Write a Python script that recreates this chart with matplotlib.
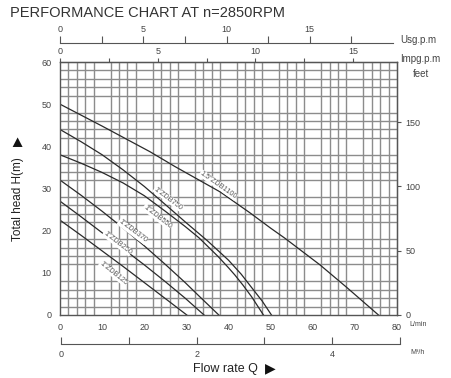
import matplotlib
matplotlib.use("Agg")
import matplotlib.pyplot as plt
from matplotlib.ticker import FixedLocator, FuncFormatter

plt.rcParams['font.family'] = ['Liberation Sans', 'DejaVu Sans']

# pump curves, flow in L/min, head in m
q_1100 = [0, 10, 21.4, 27.3, 38, 45, 50, 53.4, 61.7, 68, 75.6]
h_1100 = [50, 44.8, 38.7, 35.2, 29.2, 24.3, 20.6, 18.2, 11.9, 6.6, 0]
q_750 = [0, 5, 10, 15, 20, 25, 29.7, 35, 40, 43, 45.5, 48, 50.2]
h_750 = [44, 41.1, 38.0, 34.4, 30.5, 26.2, 22.1, 17.6, 13.0, 9.7, 6.5, 3.3, 0]
q_550 = [0, 5, 10, 15, 20, 25, 29.7, 33, 37.6, 40, 41.5, 43.5, 45.5, 48.3]
h_550 = [38, 36.0, 33.8, 31.3, 28.3, 24.6, 21.0, 18.3, 13.8, 11.2, 9.5, 7.0, 4.3, 0]
q_370 = [0, 5, 10, 15, 20, 25, 29.7, 33, 37.7]
h_370 = [32, 28.4, 24.6, 20.6, 16.4, 12.0, 7.7, 4.5, 0]
q_250 = [0, 5, 10, 15, 20, 25, 29.7, 34.2]
h_250 = [27, 23.3, 19.5, 15.7, 11.9, 7.9, 4.0, 0]
q_125 = [0, 5, 10, 15, 20, 25, 30.1]
h_125 = [22.5, 18.9, 15.2, 11.5, 7.7, 3.9, 0]

curves = [(q_1100, h_1100), (q_750, h_750), (q_550, h_550),
          (q_370, h_370), (q_250, h_250), (q_125, h_125)]
names = ['1.5"ZDB1100', '1"ZDB750', '1"ZDB550', '1"ZDB370', '1"ZDB250', '1"ZDB125']
label_q = [37.6, 25.7, 23.1, 17.2, 13.6, 12.7]
label_h = [30.8, 27.6, 23.3, 19.8, 17.1, 9.9]
label_rot = [-35, -37, -38, -37, -38, -39]

lpm_ticks = [0, 10, 20, 30, 40, 50, 60, 70, 80]
head_ticks = [0, 10, 20, 30, 40, 50, 60]
feet_ticks = [0, 50, 100, 150]
usg_ticks = [0, 2.5, 5, 7.5, 10, 12.5, 15, 17.5]
impg_ticks = [0, 2.5, 5, 7.5, 10, 12.5, 15]
m3h_ticks = [0, 1, 2, 3, 4, 5]

W, H = 451, 378
fig = plt.figure(figsize=(W / 100, H / 100), dpi=100)
txt = '#444444'
fs = 6.5

def fx(px):
    return px / W

def fy(py):
    return 1 - py / H

# main grid axes
ax = fig.add_axes([fx(60), fy(315), fx(337), 253 / H])
ax.set_xlim(0, 80)
ax.set_ylim(0, 60)
ax.set_xticks(range(0, 81, 2), minor=True)
ax.set_yticks(range(0, 61, 2), minor=True)
ax.grid(which='minor', color='#8c8c8c', linewidth=1.0)
ax.set_axisbelow(True)
ax.set_xticks(lpm_ticks)
ax.set_yticks(head_ticks)
ax.tick_params(which='both', length=0, labelsize=fs, labelcolor=txt)
ax.tick_params(axis='x', pad=6)
ax.tick_params(axis='y', pad=6)
for s in ax.spines.values():
    s.set_color('#555555')
    s.set_linewidth(1.0)

for (q, h), nm, lq, lh, rot in zip(curves, names, label_q, label_h, label_rot):
    ax.plot(q, h, color='#2a2a2a', linewidth=0.9)
    ax.text(lq, lh, nm, fontsize=5.3, rotation=rot, color='#555555',
            ha='center', va='center', rotation_mode='anchor',
            bbox=dict(facecolor='white', edgecolor='none', pad=0.2))

# top: Impg.p.m on grid top border
sec = ax.secondary_xaxis('top', functions=(lambda q: q / 4.64, lambda g: g * 4.64))
sec.xaxis.set_major_locator(FixedLocator(impg_ticks))
sec.xaxis.set_major_formatter(FuncFormatter(lambda v, p: '%d' % v if v % 5 == 0 else ''))
sec.tick_params(length=3, width=0.8, color='#555555', labelsize=fs, labelcolor=txt, pad=1.5)

# right: feet
secy = ax.secondary_yaxis('right', functions=(lambda m: m * 3.2808, lambda f: f / 3.2808))
secy.yaxis.set_major_locator(FixedLocator(feet_ticks))
secy.tick_params(length=3, width=0.8, color='#555555', labelsize=fs, labelcolor=txt, pad=3)

# Usg.p.m scale
au = fig.add_axes([fx(60), fy(43), fx(333), 0.0001])
au.set_xlim(0, 20)
au.set_yticks([])
for k in ['left', 'right', 'top']:
    au.spines[k].set_visible(False)
au.spines['bottom'].set_color('#555555')
au.xaxis.tick_top()
au.set_xticks(usg_ticks)
au.xaxis.set_major_formatter(FuncFormatter(lambda v, p: '%d' % v if v % 5 == 0 else ''))
au.tick_params(direction='out', length=5, width=0.8, color='#555555',
               labelsize=fs, labelcolor=txt, pad=1.5)

# M3/h scale
am = fig.add_axes([fx(61), fy(344), fx(339), 0.0001])
am.set_xlim(0, 5)
am.set_yticks([])
for k in ['left', 'right', 'top']:
    am.spines[k].set_visible(False)
am.spines['bottom'].set_color('#555555')
am.set_xticks(m3h_ticks)
am.xaxis.set_major_formatter(FuncFormatter(lambda v, p: '%d' % v if v % 2 == 0 else ''))
am.tick_params(direction='in', length=5, width=0.8, color='#555555',
               labelsize=fs, labelcolor=txt, pad=4)

# texts
fig.text(fx(10), fy(13), 'PERFORMANCE CHART AT n=2850RPM', fontsize=10.5,
         color='#333333', ha='left', va='center')
fig.text(fx(400), fy(40), 'Usg.p.m', fontsize=7, color=txt, ha='left', va='center')
fig.text(fx(400), fy(59), 'Impg.p.m', fontsize=7, color=txt, ha='left', va='center')
fig.text(fx(413), fy(74), 'feet', fontsize=7, color=txt, ha='left', va='center')
fig.text(fx(409), fy(325), 'L/min', fontsize=5, color=txt, ha='left', va='center')
fig.text(fx(410), fy(352), 'M³/h', fontsize=5, color=txt, ha='left', va='center')
fig.text(fx(225), fy(369), 'Flow rate Q', fontsize=9, color='#222222',
         ha='center', va='center')
fig.text(fx(270), fy(368), '\u25b6', fontsize=10, color='#111111',
         ha='center', va='center', family='DejaVu Sans')
fig.text(fx(18), fy(199), 'Total head H(m)', fontsize=8.5, color='#222222',
         ha='center', va='center', rotation=90)
fig.text(fx(18), fy(141), '\u25b6', fontsize=9, color='#111111',
         ha='center', va='center', rotation=90, family='DejaVu Sans')

fig.savefig('out.png', dpi=100)
